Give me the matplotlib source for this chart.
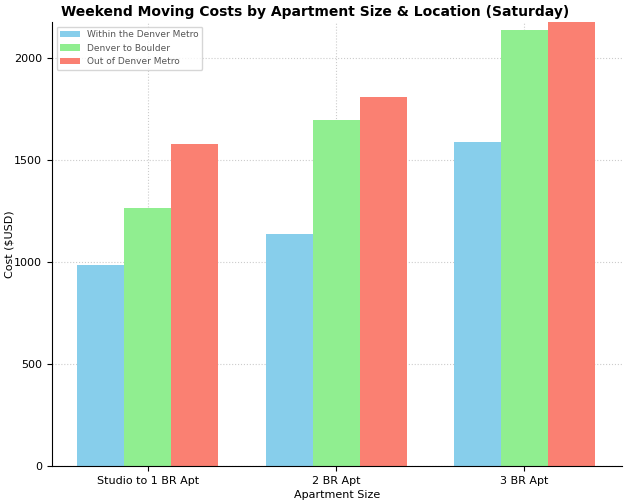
import matplotlib

matplotlib.use("Agg")

import matplotlib.pyplot as plt
import numpy as np

sizes = ["Studio to 1 BR Apt", "2 BR Apt", "3 BR Apt"]
within_metro = [985, 1135, 1585]
denver_boulder = [1265, 1695, 2135]
out_of_metro = [1575, 1810, 2180]

series = [
    ("Within the Denver Metro", within_metro, "#87ceeb"),
    ("Denver to Boulder", denver_boulder, "#90ee90"),
    ("Out of Denver Metro", out_of_metro, "#fa8072"),
]

fig = plt.figure(figsize=(6.31, 5.0), dpi=100)
ax = fig.add_axes([52 / 631, 34 / 500, 570 / 631, 444 / 500])

x = np.arange(len(sizes))
width = 0.25
for i, (label, vals, color) in enumerate(series):
    ax.bar(x + (i - 1) * width, vals, width, label=label, color=color, zorder=2)

ax.set_xlim(-0.51, 2.52)
ax.set_ylim(0, 2175)
ax.set_xticks(x)
ax.set_xticklabels(sizes, fontsize=8)
ax.set_yticks([0, 500, 1000, 1500, 2000])
ax.tick_params(axis="y", labelsize=8)
ax.set_xlabel("Apartment Size", fontsize=8, labelpad=3)
ax.set_ylabel("Cost ($USD)", fontsize=8)
ax.yaxis.set_label_coords(-0.065, 0.5)
ax.grid(True, linestyle=":", color="#cccccc", linewidth=0.8, zorder=0)
ax.spines["top"].set_visible(False)
ax.spines["right"].set_visible(False)
leg = ax.legend(loc="upper left", fontsize=6.5, frameon=True, handlelength=2.2)
for t in leg.get_texts():
    t.set_color("#555555")

fig.text(0.5, 0.976, "Weekend Moving Costs by Apartment Size & Location (Saturday)",
         ha="center", va="center", fontsize=10, fontweight="bold")

fig.savefig("out.png", dpi=100)
